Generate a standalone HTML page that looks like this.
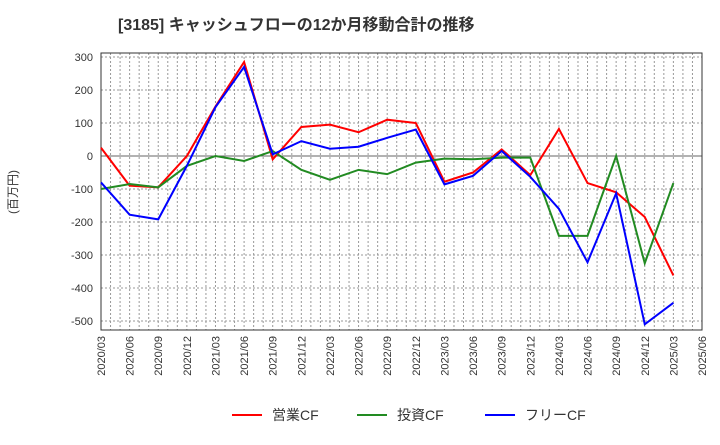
<!DOCTYPE html>
<html><head><meta charset="utf-8"><style>
body{margin:0;background:#fff;font-family:"Liberation Sans","Noto Sans CJK JP",sans-serif}
</style></head><body>
<svg id="chart" width="720" height="440" xmlns="http://www.w3.org/2000/svg" font-family="'Liberation Sans','Noto Sans CJK JP',sans-serif">
<text x="118" y="30" font-size="16" font-weight="bold" fill="#333">[3185]  キャッシュフローの12か月移動合計の推移</text>
<text transform="translate(17,192) rotate(-90)" text-anchor="middle" font-size="12" fill="#333">(百万円)</text>
<g id="grid"></g><g id="axes"></g><g id="series"></g><g id="legend"></g>
</svg>
<script>
const categories=["2020/03","2020/06","2020/09","2020/12","2021/03","2021/06","2021/09","2021/12","2022/03","2022/06","2022/09","2022/12","2023/03","2023/06","2023/09","2023/12","2024/03","2024/06","2024/09","2024/12","2025/03","2025/06"];
const operatingCF=[25,-90,-95,0,150,285,-10,88,95,72,110,100,-78,-50,20,-58,82,-82,-110,-185,-362];
const investingCF=[-100,-85,-95,-30,0,-15,15,-42,-72,-42,-55,-20,-8,-10,-5,-5,-242,-242,0,-325,-82];
const freeCF=[-80,-178,-192,-30,148,270,5,45,22,28,55,80,-86,-60,15,-63,-160,-322,-113,-510,-445];
const yTicks=[300,200,100,0,-100,-200,-300,-400,-500];
const seriesNames=["営業CF","投資CF","フリーCF"];
const NS="http://www.w3.org/2000/svg";
const L=101,R=702,T=53,B=330;
const x=i=>L+i*(R-L)/21;
const y=v=>156-v*0.33;
function mk(tag,attrs,parent){const e=document.createElementNS(NS,tag);for(const k in attrs)e.setAttribute(k,attrs[k]);document.getElementById(parent).appendChild(e);return e;}
for(let m=1;m<63;m++){const gx=L+m*(R-L)/63;const g=mk("line",{x1:gx,x2:gx,y1:T,y2:B,stroke:"#999","stroke-dasharray":"2,2","stroke-width":1},"grid");

}
yTicks.forEach(v=>{const g=mk("line",{x1:L,x2:R,y1:y(v),y2:y(v),stroke:v===0?"#666":"#999","stroke-dasharray":v===0?"":"2,2","stroke-width":1},"grid");


const t=mk("text",{x:L-8,y:y(v)+4,"text-anchor":"end","font-size":11,fill:"#333"},"axes");t.textContent=v;

});
const frame=mk("rect",{x:L,y:T,width:R-L,height:B-T,fill:"none",stroke:"#333"},"axes");


categories.forEach((c,i)=>{const t=mk("text",{transform:`translate(${x(i)+4},${B+6}) rotate(-90)`,"text-anchor":"end","font-size":11,fill:"#333"},"axes");t.textContent=c;

});
const colors=["#ff0000","#228b22","#0000ff"];
[operatingCF,investingCF,freeCF].forEach((d,s)=>{const p=mk("polyline",{points:d.map((v,i)=>x(i)+","+y(v)).join(" "),fill:"none",stroke:colors[s],"stroke-width":2},"series");

});
const lx=[232,357,485];
seriesNames.forEach((n,s)=>{const l=mk("line",{x1:lx[s],x2:lx[s]+30,y1:415,y2:415,stroke:colors[s],"stroke-width":2},"legend");


const t=mk("text",{x:lx[s]+40,y:420,"font-size":14,fill:"#333"},"legend");t.textContent=n;

});
</script>
</body></html>
